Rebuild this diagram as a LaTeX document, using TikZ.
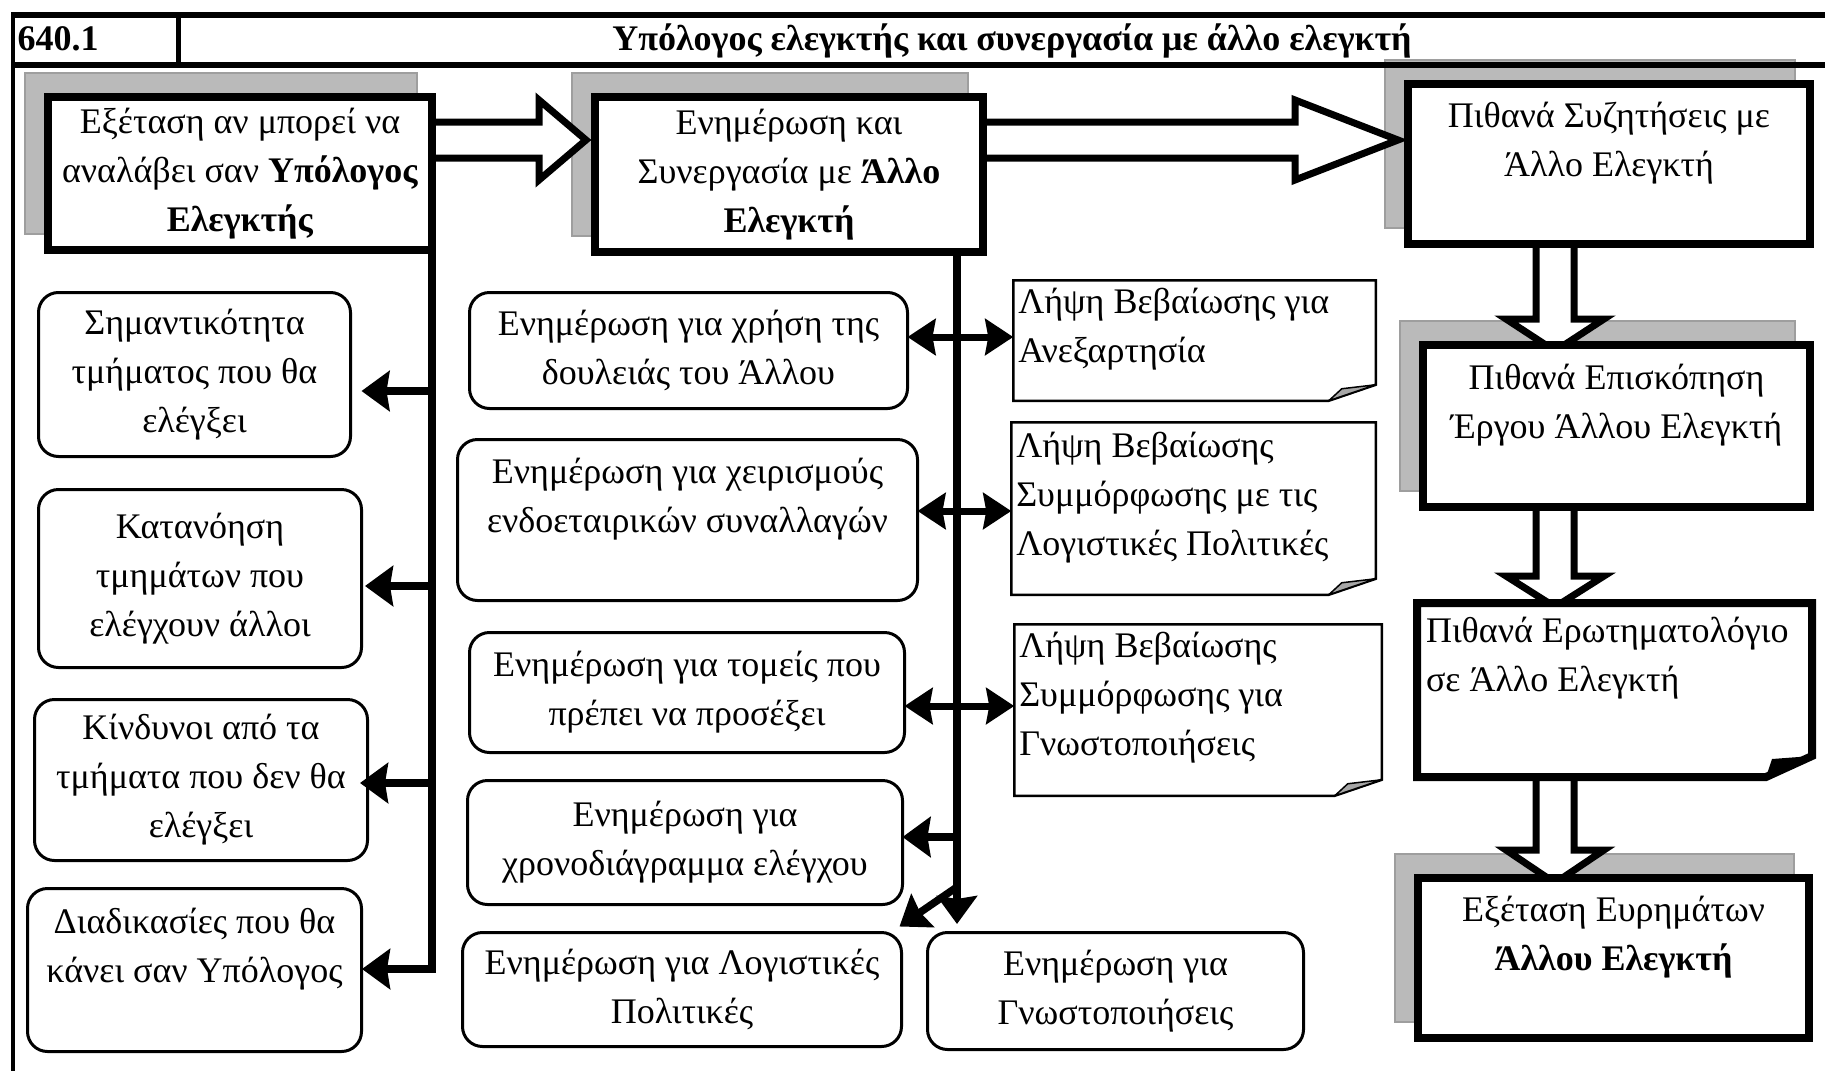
\documentclass[tikz,border=0pt]{standalone}
\usepackage{fontspec}
\setmainfont{Liberation Serif}
\usetikzlibrary{arrows.meta,calc}
\pgfdeclarelayer{shadowlayer}
\pgfdeclarelayer{arrowlayer}
\pgfsetlayers{shadowlayer,arrowlayer,main}
\tikzset{
  txt/.style={font=\fontsize{36}{49}\selectfont, align=center, inner sep=0pt, outer sep=0pt},
  thickbox/.style={txt, draw, line width=8pt, fill=white},
  rbox/.style={txt, draw, line width=3pt, rounded corners=20pt, fill=white},
  ghost/.style={inner sep=0pt, outer sep=0pt},
  shadowfill/.style={fill=black!27, draw=black!38, line width=1.5pt},
  blockarrow/.style={draw, line width=7pt, fill=white, line join=miter},
  conn/.style={line width=7.5pt, -{Stealth[length=28pt, width=40pt, inset=3pt]}},
  dconn/.style={line width=7pt, {Stealth[length=28pt, width=36pt, inset=3pt]}-{Stealth[length=28pt, width=36pt, inset=3pt]}},
  notebox/.style={draw, line width=2.5pt, fill=white, line join=miter},
}
\newcommand{\HArrow}[3]{%
  \draw[blockarrow] ($(#1)+(0,-18)$) -- ($(#2)+(-#3,-18)$) -- ($(#2)+(-#3,-40)$) -- (#2)
    -- ($(#2)+(-#3,40)$) -- ($(#2)+(-#3,18)$) -- ($(#1)+(0,18)$) -- cycle;}
\newcommand{\VArrow}[3]{%
  \draw[blockarrow] ($(#1)+(-19,0)$) -- ($(#2)+(-19,-#3)$) -- ($(#2)+(-49,-#3)$) -- (#2)
    -- ($(#2)+(49,-#3)$) -- ($(#2)+(19,-#3)$) -- ($(#1)+(19,0)$) -- cycle;}
\begin{document}
\begin{tikzpicture}[x=1pt,y=-1pt]
\useasboundingbox (0,0) rectangle (1825,1071);
% header frame
\draw[line width=6pt] (11,15) -- (1825,15);
\draw[line width=6pt] (11,65) -- (1825,65);
\draw[line width=4pt] (13,13) -- (13,1071);
\draw[line width=5pt] (178,15) -- (178,65);
\node[txt, font=\fontsize{36}{49}\selectfont\bfseries, anchor=base] (num) at (58,50) {640.1};
\node[txt, font=\fontsize{36}{49}\selectfont\bfseries, anchor=base] (title) at (1012,50) {Υπόλογος ελεγκτής και συνεργασία με άλλο ελεγκτή};

% main thick boxes
\node[thickbox, minimum width=384pt, minimum height=153pt] (A) at (240,173.5)
  {Εξέταση αν μπορεί να\\αναλάβει σαν \textbf{Υπόλογος}\\\textbf{Ελεγκτής}};
\node[thickbox, minimum width=388pt, minimum height=155pt] (B) at (789,174.5)
  {Ενημέρωση και\\Συνεργασία με \textbf{Άλλο}\\\textbf{Ελεγκτή}};
\node[thickbox, minimum width=402pt, minimum height=160pt] (C) at (1609,164)
  {Πιθανά Συζητήσεις με\\Άλλο Ελεγκτή\\\mbox{}};
\node[thickbox, minimum width=387pt, minimum height=162pt] (D) at (1616.5,426)
  {Πιθανά Επισκόπηση\\Έργου Άλλου Ελεγκτή\\\mbox{}};
\node[ghost, minimum width=395pt, minimum height=174pt] (E) at (1614.5,690) {};
\draw[line width=8pt, fill=white, line join=miter] (E.north west) -- (E.north east)
  -- ($(E.south east)+(0,-21)$) -- ($(E.south east)+(-46,0)$) -- (E.south west) -- cycle;
\fill[black] ($(E.south east)+(-46,0)$) -- ($(E.south east)+(-40,-18)$) -- ($(E.south east)+(0,-21)$) -- cycle;
\node[txt, align=left, anchor=west] (Et) at ($(E.west)+(9,-32)$) {Πιθανά Ερωτηματολόγιο\\σε Άλλο Ελεγκτή};
\node[thickbox, minimum width=391pt, minimum height=160pt] (F) at (1613.5,958)
  {Εξέταση Ευρημάτων\\\textbf{Άλλου Ελεγκτή}\\\mbox{}};

% left column
\node[rbox, minimum width=312pt, minimum height=164pt] (L1) at (194.5,374.5) {Σημαντικότητα\\τμήματος που θα\\ελέγξει};
\node[rbox, minimum width=323pt, minimum height=178pt] (L2) at (200,578.5) {Κατανόηση\\τμημάτων που\\ελέγχουν άλλοι};
\node[rbox, minimum width=333pt, minimum height=161pt] (L3) at (201,780) {Κίνδυνοι από τα\\τμήματα που δεν θα\\ελέγξει};
\node[rbox, minimum width=334pt, minimum height=163pt] (L4) at (194.5,970) {Διαδικασίες που θα\\κάνει σαν Υπόλογος\\\mbox{}};

% middle column
\node[rbox, minimum width=438pt, minimum height=116pt] (M1) at (688.5,350.5) {Ενημέρωση για χρήση της\\δουλειάς του Άλλου};
\node[rbox, minimum width=460pt, minimum height=161pt] (M2) at (687.5,520) {Ενημέρωση για χειρισμούς\\ενδοεταιρικών συναλλαγών\\\mbox{}};
\node[rbox, minimum width=435pt, minimum height=120pt] (M3) at (687,692.5) {Ενημέρωση για τομείς που\\πρέπει να προσέξει};
\node[rbox, minimum width=435pt, minimum height=124pt] (M4) at (685,842.5) {Ενημέρωση για\\χρονοδιάγραμμα ελέγχου};
\node[rbox, minimum width=439pt, minimum height=114pt] (M5) at (682,989.5) {Ενημέρωση για Λογιστικές\\Πολιτικές};
\node[rbox, minimum width=376pt, minimum height=117pt] (M6) at (1115.5,991) {Ενημέρωση για\\Γνωστοποιήσεις};

% notes
\foreach \n/\cx/\cy/\w/\h in {N1/1194.5/340.5/362.5/120.5, N2/1193.5/508.5/364.5/172.5, N3/1198/710/367.5/171.5}{
  \node[ghost, minimum width=\w pt, minimum height=\h pt] (\n) at (\cx,\cy) {};
  \draw[notebox] (\n.north west) -- (\n.north east) -- ($(\n.south east)+(0,-16)$)
    -- ($(\n.south east)+(-47,0)$) -- (\n.south west) -- cycle;
  \filldraw[fill=black!35, draw=black, line width=1.5pt, line join=round] ($(\n.south east)+(-47,0)$)
    -- ($(\n.south east)+(-34,-12)$) -- ($(\n.south east)+(0,-16)$) -- cycle;
}
\node[txt, align=left, anchor=west] (N1t) at ($(N1.west)+(5,-11)$) {Λήψη Βεβαίωσης για\\Ανεξαρτησία};
\node[txt, align=left, anchor=west] (N2t) at ($(N2.west)+(5,-11)$) {Λήψη Βεβαίωσης\\Συμμόρφωσης με τις\\Λογιστικές Πολιτικές};
\node[txt, align=left, anchor=west] (N3t) at ($(N3.west)+(5,-12)$) {Λήψη Βεβαίωσης\\Συμμόρφωσης για\\Γνωστοποιήσεις};

% shadows
\begin{pgfonlayer}{shadowlayer}
  \foreach \b in {A,B,C,D,F}{
    \filldraw[shadowfill] ($(\b.north west)+(-23,-24)$) rectangle ($(\b.south east)+(-15,-16)$);
  }
\end{pgfonlayer}

% block arrows
\begin{pgfonlayer}{arrowlayer}
  \coordinate (ab1) at ([yshift=33.5pt]A.east);
  \coordinate (ab2) at ([xshift=-9pt,yshift=34.5pt]B.west);
  \HArrow{ab1}{ab2}{47}
  \coordinate (bc1) at ([yshift=34.5pt]B.east);
  \coordinate (bc2) at ([xshift=-10pt,yshift=24pt]C.west);
  \HArrow{bc1}{bc2}{103}
  \coordinate (cd1) at ([xshift=-54pt]C.south);
  \coordinate (cd2) at ([xshift=-61.5pt,yshift=-6pt]D.north);
  \VArrow{cd1}{cd2}{32}
  \coordinate (de1) at ([xshift=-61.5pt]D.south);
  \coordinate (de2) at ([xshift=-59.5pt,yshift=-4pt]E.north);
  \VArrow{de1}{de2}{31}
  \coordinate (ef1) at ([xshift=-59.5pt]E.south);
  \coordinate (ef2) at ([xshift=-58.5pt,yshift=-5pt]F.north);
  \VArrow{ef1}{ef2}{33}
\end{pgfonlayer}

% left trunk and arrows
\coordinate (LT1) at (432,391);
\coordinate (LT2) at (432,586);
\coordinate (LT3) at (432,783);
\coordinate (LT4) at (432,969);
\draw[conn] (A.south east) -- (LT4) -- ($(L4.east |- LT4)+(0.5,0)$);
\draw[conn] (LT1) -- ($(L1.east |- LT1)+(11,0)$);
\draw[conn] (LT2) -- ($(L2.east |- LT2)+(3.5,0)$);
\draw[conn] (LT3) -- ($(L3.east |- LT3)+(-7.5,0)$);

% middle trunk and arrows
\coordinate (MT0) at ($(B.south)+(168,0)$);
\coordinate (MT4) at (957,837);
\coordinate (MT5) at (957,887);
\coordinate (tM6) at ($(M6.north west)+(29.5,-8.5)$);
\draw[conn] (MT0) -- (tM6);
\draw[conn] (MT4) -- (M4.east |- MT4);
\draw[conn] (MT5) -- ($(M5.north east)+(-2,-6)$);
\draw[dconn] (M1.east |- 0,337) -- (N1.west |- 0,337);
\draw[dconn] (M2.east |- 0,511) -- (N2.west |- 0,511);
\draw[dconn] (M3.east |- 0,706) -- (N3.west |- 0,706);
\end{tikzpicture}
\end{document}
